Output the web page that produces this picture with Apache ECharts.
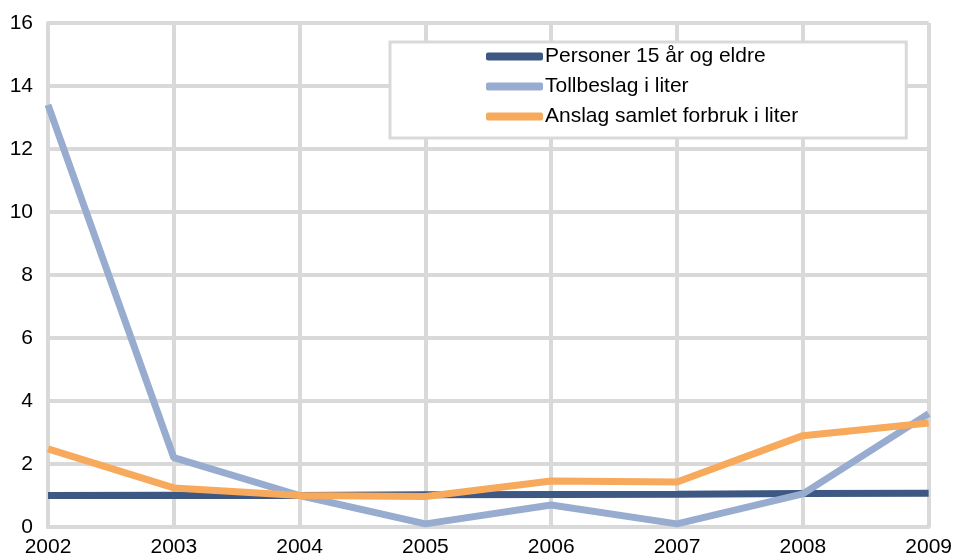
<!DOCTYPE html>
<html>
<head>
<meta charset="utf-8">
<script src="https://cdn.jsdelivr.net/npm/echarts@6/dist/echarts.min.js"></script>
<style>
  html, body { margin: 0; padding: 0; background: #fff; }
  #main { width: 955px; height: 558px; }
</style>
</head>
<body>
<div id="main"></div>
<script>
// data
const years = ["2002", "2003", "2004", "2005", "2006", "2007", "2008", "2009"];
const personer = [1.0, 1.01, 1.0, 1.02, 1.03, 1.04, 1.06, 1.07];
const tollbeslag = [13.4, 2.2, 1.0, 0.1, 0.7, 0.1, 1.05, 3.6];
const anslag = [2.48, 1.24, 1.0, 0.97, 1.46, 1.43, 2.9, 3.3];

const gridGrey = "#d9d9d9";
const font = "Liberation Sans, Arial, sans-serif";

const chart = echarts.init(document.getElementById("main"));

function lineSeries(name, data, color) {
  return {
    name: name,
    type: "line",
    data: data,
    symbol: "none",
    lineStyle: { color: color, width: 7 },
    itemStyle: { color: color },
  };
}

chart.setOption({
  animation: false,
  textStyle: { fontFamily: font },
  grid: { left: 48, right: 25, top: 23, bottom: 31 },
  legend: {
    orient: "vertical",
    left: 390,
    top: 42,
    padding: [4, 108, 11, 96],
    borderColor: gridGrey,
    borderWidth: 3,
    backgroundColor: "#fff",
    itemWidth: 57,
    itemHeight: 8,
    itemGap: 9,
    icon: "roundRect",
    textStyle: { fontSize: 21, color: "#000", fontFamily: font, padding: [0, 0, 0, -3] },
    data: ["Personer 15 år og eldre", "Tollbeslag i liter", "Anslag samlet forbruk i liter"],
  },
  xAxis: {
    type: "category",
    data: years,
    boundaryGap: false,
    axisLine: { show: true, lineStyle: { color: gridGrey, width: 4 } },
    axisTick: { show: false },
    axisLabel: { color: "#000", fontSize: 21, margin: 10, fontFamily: font },
    splitLine: { show: true, lineStyle: { color: gridGrey, width: 4 } },
  },
  yAxis: {
    type: "value",
    min: 0,
    max: 16,
    interval: 2,
    axisLine: { show: true, lineStyle: { color: gridGrey, width: 4 } },
    axisTick: { show: false },
    axisLabel: { color: "#000", fontSize: 21, margin: 15, fontFamily: font },
    splitLine: { show: true, lineStyle: { color: gridGrey, width: 4 } },
  },
  series: [
    lineSeries("Personer 15 år og eldre", personer, "#3d5882"),
    lineSeries("Tollbeslag i liter", tollbeslag, "#98acd0"),
    lineSeries("Anslag samlet forbruk i liter", anslag, "#f7a95c"),
  ],
});
</script>
</body>
</html>
